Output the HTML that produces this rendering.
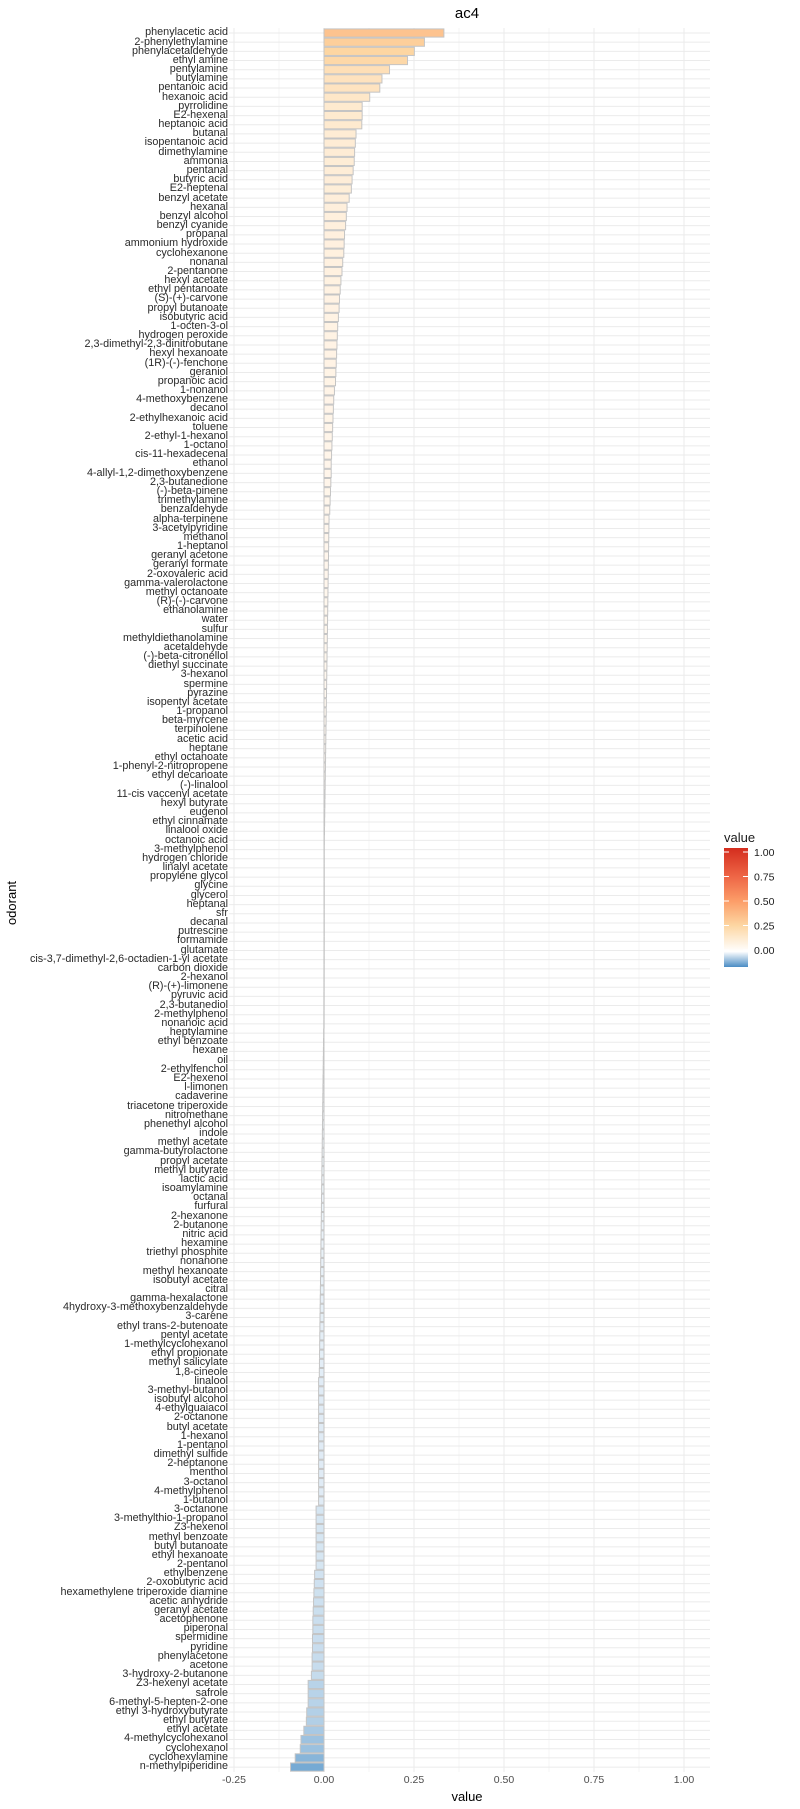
<!DOCTYPE html>
<html><head><meta charset="utf-8"><style>
body{margin:0;background:#fff;width:800px;height:1809px;position:relative;overflow:hidden;font-family:"Liberation Sans",sans-serif;}
#labels{position:absolute;left:0;width:228px;top:28.41px;text-align:right;font-size:10.8px;color:#2a2a2a;}
#labels div{height:9.175px;line-height:9.175px;white-space:nowrap;letter-spacing:0px}
</style></head><body>
<svg id="plot" width="800" height="1809" style="position:absolute;left:0;top:0">
<g id="grid"></g><g id="bars"></g>
<defs><linearGradient id="lg" x1="0" y1="0" x2="0" y2="1">
<stop offset="0" stop-color="#d42d1e"/><stop offset="0.24" stop-color="#ee6646"/><stop offset="0.445" stop-color="#fc9d68"/><stop offset="0.65" stop-color="#fdd6a2"/><stop offset="0.87" stop-color="#ffffff"/><stop offset="1" stop-color="#4a8cc4"/></linearGradient></defs>
<rect x="724" y="848" width="24" height="119" fill="url(#lg)"/>
<g stroke="#fff" stroke-width="1">
<line x1="724" x2="729" y1="852" y2="852"/><line x1="743" x2="748" y1="852" y2="852"/>
<line x1="724" x2="729" y1="876.5" y2="876.5"/><line x1="743" x2="748" y1="876.5" y2="876.5"/>
<line x1="724" x2="729" y1="901" y2="901"/><line x1="743" x2="748" y1="901" y2="901"/>
<line x1="724" x2="729" y1="925.5" y2="925.5"/><line x1="743" x2="748" y1="925.5" y2="925.5"/>
<line x1="724" x2="729" y1="950" y2="950"/><line x1="743" x2="748" y1="950" y2="950"/>
</g>
<g font-family="Liberation Sans, sans-serif" font-size="10.5" fill="#1a1a1a">
<text x="754" y="856">1.00</text><text x="754" y="880.5">0.75</text><text x="754" y="905">0.50</text><text x="754" y="929.5">0.25</text><text x="754" y="954">0.00</text>
<text x="724" y="842" font-size="13">value</text>
</g>
<g font-family="Liberation Sans, sans-serif" font-size="10.5" fill="#4d4d4d" text-anchor="middle">
<text x="234" y="1783">-0.25</text><text x="324" y="1783">0.00</text><text x="414" y="1783">0.25</text><text x="504" y="1783">0.50</text><text x="594" y="1783">0.75</text><text x="684" y="1783">1.00</text>
</g>
<text x="467" y="1801" font-family="Liberation Sans, sans-serif" font-size="13" text-anchor="middle" fill="#000">value</text>
<text x="467" y="18" font-family="Liberation Sans, sans-serif" font-size="15" text-anchor="middle" fill="#000">ac4</text>
<text transform="translate(16,903) rotate(-90)" font-family="Liberation Sans, sans-serif" font-size="13" text-anchor="middle" fill="#000">odorant</text>
</svg>
<div id="labels">
<div>phenylacetic acid</div><div>2-phenylethylamine</div><div>phenylacetaldehyde</div><div>ethyl amine</div><div>pentylamine</div><div>butylamine</div><div>pentanoic acid</div><div>hexanoic acid</div><div>pyrrolidine</div><div>E2-hexenal</div><div>heptanoic acid</div><div>butanal</div><div>isopentanoic acid</div><div>dimethylamine</div><div>ammonia</div><div>pentanal</div><div>butyric acid</div><div>E2-heptenal</div><div>benzyl acetate</div><div>hexanal</div><div>benzyl alcohol</div><div>benzyl cyanide</div><div>propanal</div><div>ammonium hydroxide</div><div>cyclohexanone</div><div>nonanal</div><div>2-pentanone</div><div>hexyl acetate</div><div>ethyl pentanoate</div><div>(S)-(+)-carvone</div><div>propyl butanoate</div><div>isobutyric acid</div><div>1-octen-3-ol</div><div>hydrogen peroxide</div><div>2,3-dimethyl-2,3-dinitrobutane</div><div>hexyl hexanoate</div><div>(1R)-(-)-fenchone</div><div>geraniol</div><div>propanoic acid</div><div>1-nonanol</div><div>4-methoxybenzene</div><div>decanol</div><div>2-ethylhexanoic acid</div><div>toluene</div><div>2-ethyl-1-hexanol</div><div>1-octanol</div><div>cis-11-hexadecenal</div><div>ethanol</div><div>4-allyl-1,2-dimethoxybenzene</div><div>2,3-butanedione</div><div>(-)-beta-pinene</div><div>trimethylamine</div><div>benzaldehyde</div><div>alpha-terpinene</div><div>3-acetylpyridine</div><div>methanol</div><div>1-heptanol</div><div>geranyl acetone</div><div>geranyl formate</div><div>2-oxovaleric acid</div><div>gamma-valerolactone</div><div>methyl octanoate</div><div>(R)-(-)-carvone</div><div>ethanolamine</div><div>water</div><div>sulfur</div><div>methyldiethanolamine</div><div>acetaldehyde</div><div>(-)-beta-citronellol</div><div>diethyl succinate</div><div>3-hexanol</div><div>spermine</div><div>pyrazine</div><div>isopentyl acetate</div><div>1-propanol</div><div>beta-myrcene</div><div>terpinolene</div><div>acetic acid</div><div>heptane</div><div>ethyl octanoate</div><div>1-phenyl-2-nitropropene</div><div>ethyl decanoate</div><div>(-)-linalool</div><div>11-cis vaccenyl acetate</div><div>hexyl butyrate</div><div>eugenol</div><div>ethyl cinnamate</div><div>linalool oxide</div><div>octanoic acid</div><div>3-methylphenol</div><div>hydrogen chloride</div><div>linalyl acetate</div><div>propylene glycol</div><div>glycine</div><div>glycerol</div><div>heptanal</div><div>sfr</div><div>decanal</div><div>putrescine</div><div>formamide</div><div>glutamate</div><div>cis-3,7-dimethyl-2,6-octadien-1-yl acetate</div><div>carbon dioxide</div><div>2-hexanol</div><div>(R)-(+)-limonene</div><div>pyruvic acid</div><div>2,3-butanediol</div><div>2-methylphenol</div><div>nonanoic acid</div><div>heptylamine</div><div>ethyl benzoate</div><div>hexane</div><div>oil</div><div>2-ethylfenchol</div><div>E2-hexenol</div><div>l-limonen</div><div>cadaverine</div><div>triacetone triperoxide</div><div>nitromethane</div><div>phenethyl alcohol</div><div>indole</div><div>methyl acetate</div><div>gamma-butyrolactone</div><div>propyl acetate</div><div>methyl butyrate</div><div>lactic acid</div><div>isoamylamine</div><div>octanal</div><div>furfural</div><div>2-hexanone</div><div>2-butanone</div><div>nitric acid</div><div>hexamine</div><div>triethyl phosphite</div><div>nonanone</div><div>methyl hexanoate</div><div>isobutyl acetate</div><div>citral</div><div>gamma-hexalactone</div><div>4hydroxy-3-methoxybenzaldehyde</div><div>3-carene</div><div>ethyl trans-2-butenoate</div><div>pentyl acetate</div><div>1-methylcyclohexanol</div><div>ethyl propionate</div><div>methyl salicylate</div><div>1,8-cineole</div><div>linalool</div><div>3-methyl-butanol</div><div>isobutyl alcohol</div><div>4-ethylguaiacol</div><div>2-octanone</div><div>butyl acetate</div><div>1-hexanol</div><div>1-pentanol</div><div>dimethyl sulfide</div><div>2-heptanone</div><div>menthol</div><div>3-octanol</div><div>4-methylphenol</div><div>1-butanol</div><div>3-octanone</div><div>3-methylthio-1-propanol</div><div>Z3-hexenol</div><div>methyl benzoate</div><div>butyl butanoate</div><div>ethyl hexanoate</div><div>2-pentanol</div><div>ethylbenzene</div><div>2-oxobutyric acid</div><div>hexamethylene triperoxide diamine</div><div>acetic anhydride</div><div>geranyl acetate</div><div>acetophenone</div><div>piperonal</div><div>spermidine</div><div>pyridine</div><div>phenylacetone</div><div>acetone</div><div>3-hydroxy-2-butanone</div><div>Z3-hexenyl acetate</div><div>safrole</div><div>6-methyl-5-hepten-2-one</div><div>ethyl 3-hydroxybutyrate</div><div>ethyl butyrate</div><div>ethyl acetate</div><div>4-methylcyclohexanol</div><div>cyclohexanol</div><div>cyclohexylamine</div><div>n-methylpiperidine</div>
</div>
<script>
(function(){
var v=[.333,.279,.251,.232,.182,.161,.155,.127,.106,.106,.105,.089,.087,.085,.084,.081,.078,.076,.070,
.064,.062,.060,.057,.056,.055,.052,.050,.047,.045,.043,.042,.040,.038,.037,.036,.035,.034,.033,.032,.029,.027,.026,.025,.024,.023,.022,.021,.020,.020,.019,.018,.017,.016];
var i;
for(i=0;i<36;i++)v.push(.014-(.013*i/35));
for(i=0;i<20;i++)v.push(.0005-(.001*i/19));
for(i=0;i<38;i++)v.push(-.001-(.012*i/37));
for(i=0;i<14;i++)v.push(-.015);
for(i=0;i<7;i++)v.push(-.022);
v.push(-.026);
v=v.concat([-.027,-.028,-.029,-.030,-.031,-.031,-.032,-.032,-.033,-.033,-.035,-.044,-.044,-.044,-.048,-.049,-.056,-.064,-.066,-.080,-.093]);
var NS="http://www.w3.org/2000/svg";
var g=document.getElementById("grid"),b=document.getElementById("bars");
function el(p,t,a){var e=document.createElementNS(NS,t);for(var k in a)e.setAttribute(k,a[k]);p.appendChild(e);return e;}
var top=28,bot=1772,z=324,u=360,h=9.175,y0=33;
[279,369,459,549,639].forEach(function(x){el(g,"line",{x1:x,x2:x,y1:top,y2:bot,stroke:"#f4f4f4","stroke-width":1});});
[234,324,414,504,594,684].forEach(function(x){el(g,"line",{x1:x,x2:x,y1:top,y2:bot,stroke:"#ebebeb","stroke-width":1});});
for(i=0;i<v.length;i++){var y=y0+i*h;el(g,"line",{x1:229,x2:710,y1:y,y2:y,stroke:"#ebebeb","stroke-width":1});}
function lerp(a,c,t){return a.map(function(x,j){return Math.round(x+(c[j]-x)*t);});}
var ps=[[0,[255,248,240]],[.25,[253,214,162]],[.5,[252,157,104]],[.75,[238,102,70]],[1,[212,45,30]]];
function col(val){var c;
 if(val>=0){for(var k=0;k<4;k++){if(val<=ps[k+1][0]){c=lerp(ps[k][1],ps[k+1][1],(val-ps[k][0])/.25);break;}}}
 else{c=lerp([244,248,251],[118,170,212],Math.min(1,-val/.093));}
 return "rgb("+c.join(",")+")";}
for(i=0;i<v.length;i++){var y=y0+i*h,x1=z,x2=z+v[i]*u;var x=Math.min(x1,x2),w=Math.abs(x2-x1);
 el(b,"rect",{x:x,y:y-4.1,width:Math.max(w,0.3),height:8.2,fill:col(v[i]),stroke:"#c4c4c4","stroke-width":1});}
})();
</script>
</body></html>
